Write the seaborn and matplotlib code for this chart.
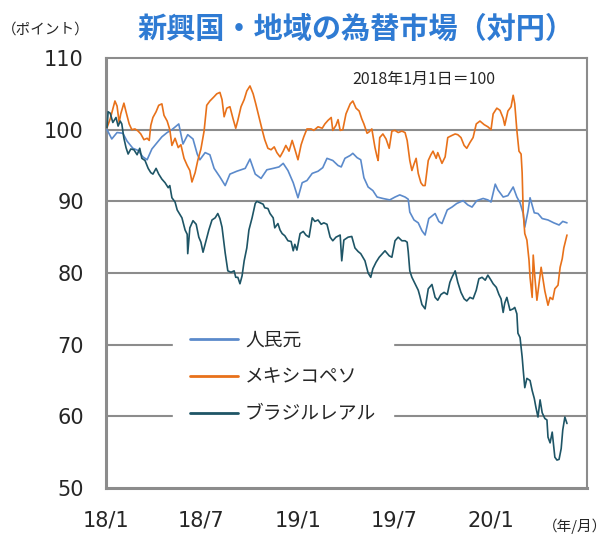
import pandas as pd
import matplotlib.pyplot as plt
import seaborn as sns

# 人民元
cny_dates = ['2018-01-03', '2018-01-12', '2018-01-22', '2018-02-02', '2018-02-10', '2018-02-21', '2018-03-03',
             '2018-03-12', '2018-03-20', '2018-03-29', '2018-04-08', '2018-04-17', '2018-04-27', '2018-05-06',
             '2018-05-19', '2018-05-27', '2018-06-05', '2018-06-15', '2018-06-23', '2018-06-28', '2018-07-08',
             '2018-07-17', '2018-07-25', '2018-08-05', '2018-08-15', '2018-08-24', '2018-09-06', '2018-09-22',
             '2018-10-01', '2018-10-11', '2018-10-22', '2018-11-02', '2018-11-14', '2018-11-25', '2018-12-03',
             '2018-12-12', '2018-12-22', '2018-12-31', '2019-01-08', '2019-01-17', '2019-01-27', '2019-02-07',
             '2019-02-16', '2019-02-24', '2019-03-07', '2019-03-17', '2019-03-23', '2019-03-30', '2019-04-09',
             '2019-04-14', '2019-04-22', '2019-04-29', '2019-05-05', '2019-05-13', '2019-05-22', '2019-05-30',
             '2019-06-10', '2019-06-23', '2019-07-03', '2019-07-12', '2019-07-22', '2019-07-28', '2019-07-31',
             '2019-08-08', '2019-08-16', '2019-08-23', '2019-08-29', '2019-09-05', '2019-09-17', '2019-09-24',
             '2019-09-30', '2019-10-10', '2019-10-19', '2019-10-28', '2019-11-09', '2019-11-18', '2019-11-26',
             '2019-12-05', '2019-12-17', '2019-12-26', '2020-01-01', '2020-01-09', '2020-01-14', '2020-01-24',
             '2020-02-02', '2020-02-12', '2020-02-19', '2020-02-25', '2020-03-02', '2020-03-05', '2020-03-11',
             '2020-03-15', '2020-03-23', '2020-03-30', '2020-04-07', '2020-04-18', '2020-04-29', '2020-05-09',
             '2020-05-16', '2020-05-24']
cny_values = [100.0, 98.7, 99.6, 99.5, 98.4, 97.4, 97.1, 96.2, 95.8, 97.3, 98.2, 99.0, 99.6, 100.0,
              100.8, 98.0, 99.3, 98.7, 96.6, 95.8, 96.8, 96.5, 94.6, 93.4, 92.2, 93.8, 94.2, 94.6,
              95.9, 93.8, 93.2, 94.4, 94.6, 94.8, 95.3, 94.3, 92.6, 90.5, 92.6, 92.9, 93.9, 94.2,
              94.7, 96.0, 95.7, 95.0, 94.8, 96.0, 96.4, 96.7, 96.1, 95.8, 93.3, 92.0, 91.5, 90.6,
              90.4, 90.2, 90.6, 90.9, 90.6, 90.3, 88.5, 87.4, 87.0, 85.9, 85.3, 87.6, 88.3, 87.2,
              86.9, 88.8, 89.2, 89.7, 90.1, 89.5, 89.2, 90.1, 90.4, 90.2, 89.9, 92.4, 91.6, 90.6,
              90.8, 92.0, 90.6, 89.8, 88.3, 86.4, 88.6, 90.5, 88.4, 88.3, 87.6, 87.4, 87.0, 86.7,
              87.2, 87.0]

# メキシコペソ
mxn_dates = ['2018-01-03', '2018-01-09', '2018-01-18', '2018-01-22', '2018-01-26', '2018-01-29', '2018-02-04',
             '2018-02-08', '2018-02-14', '2018-02-19', '2018-02-25', '2018-03-03', '2018-03-08', '2018-03-14',
             '2018-03-20', '2018-03-24', '2018-03-27', '2018-03-31', '2018-04-06', '2018-04-11', '2018-04-17',
             '2018-04-21', '2018-04-27', '2018-05-02', '2018-05-06', '2018-05-12', '2018-05-18', '2018-05-23',
             '2018-05-29', '2018-06-04', '2018-06-09', '2018-06-13', '2018-06-19', '2018-06-24', '2018-06-30',
             '2018-07-06', '2018-07-11', '2018-07-17', '2018-07-25', '2018-07-30', '2018-08-05', '2018-08-09',
             '2018-08-13', '2018-08-18', '2018-08-24', '2018-08-30', '2018-09-04', '2018-09-08', '2018-09-14',
             '2018-09-20', '2018-09-25', '2018-10-01', '2018-10-07', '2018-10-12', '2018-10-18', '2018-10-24',
             '2018-10-29', '2018-11-04', '2018-11-10', '2018-11-16', '2018-11-21', '2018-11-27', '2018-12-03',
             '2018-12-08', '2018-12-14', '2018-12-20', '2018-12-25', '2018-12-31', '2019-01-06', '2019-01-11',
             '2019-01-17', '2019-01-25', '2019-01-30', '2019-02-07', '2019-02-15', '2019-02-20', '2019-02-26',
             '2019-03-04', '2019-03-07', '2019-03-13', '2019-03-17', '2019-03-21', '2019-03-26', '2019-04-01',
             '2019-04-09', '2019-04-14', '2019-04-20', '2019-04-26', '2019-05-01', '2019-05-05', '2019-05-11',
             '2019-05-15', '2019-05-20', '2019-05-26', '2019-05-30', '2019-06-01', '2019-06-04', '2019-06-10',
             '2019-06-16', '2019-06-22', '2019-06-27', '2019-07-03', '2019-07-09', '2019-07-16', '2019-07-22',
             '2019-07-26', '2019-07-31', '2019-08-04', '2019-08-08', '2019-08-12', '2019-08-16', '2019-08-21',
             '2019-08-25', '2019-08-29', '2019-09-04', '2019-09-09', '2019-09-13', '2019-09-19', '2019-09-22',
             '2019-09-30', '2019-10-06', '2019-10-11', '2019-10-19', '2019-10-25', '2019-10-30', '2019-11-05',
             '2019-11-11', '2019-11-16', '2019-11-22', '2019-11-28', '2019-12-04', '2019-12-11', '2019-12-19',
             '2019-12-26', '2020-01-01', '2020-01-05', '2020-01-12', '2020-01-18', '2020-01-24', '2020-01-27',
             '2020-02-02', '2020-02-08', '2020-02-12', '2020-02-15', '2020-02-19', '2020-02-23', '2020-02-27',
             '2020-02-29', '2020-03-02', '2020-03-05', '2020-03-09', '2020-03-13', '2020-03-15', '2020-03-19',
             '2020-03-21', '2020-03-24', '2020-03-28', '2020-04-01', '2020-04-05', '2020-04-08', '2020-04-12',
             '2020-04-18', '2020-04-22', '2020-04-27', '2020-05-01', '2020-05-07', '2020-05-11', '2020-05-15',
             '2020-05-18', '2020-05-24']
mxn_values = [100.3, 101.5, 104.0, 103.3, 101.0, 102.2, 103.7, 102.5, 100.8, 100.0, 100.1, 99.8, 99.4, 98.6,
              98.8, 98.5, 100.6, 101.7, 102.5, 103.4, 103.6, 102.0, 101.2, 100.0, 97.8, 98.8, 97.5, 97.9,
              96.0, 95.0, 94.3, 92.7, 94.0, 95.7, 97.3, 99.8, 103.4, 104.0, 104.6, 105.0, 105.2, 104.2,
              101.8, 103.0, 103.2, 101.5, 100.2, 101.3, 103.2, 104.2, 105.4, 106.1, 105.0, 103.6, 101.8, 100.0,
              98.6, 97.4, 97.2, 97.6, 96.8, 96.2, 97.0, 97.8, 97.0, 98.5, 97.3, 95.8, 97.9, 99.0,
              100.1, 100.1, 99.9, 100.4, 100.2, 100.8, 101.3, 101.7, 99.9, 100.6, 101.4, 99.9, 100.0, 102.2,
              103.6, 104.0, 103.0, 102.6, 101.5, 100.8, 99.5, 99.7, 100.1, 97.5, 96.2, 95.7, 98.9, 99.4,
              98.7, 97.4, 99.8, 99.9, 99.6, 99.8, 99.6, 98.5, 95.7, 94.3, 95.2, 96.0, 93.9, 92.6,
              92.2, 92.2, 95.7, 96.5, 97.0, 96.0, 96.8, 95.3, 96.2, 98.9, 99.2, 99.4, 99.3, 98.9,
              97.8, 97.4, 98.2, 98.9, 100.8, 101.2, 100.7, 100.4, 100.0, 102.2, 103.0, 102.7, 101.6, 100.6,
              102.6, 103.2, 104.8, 103.6, 99.9, 97.0, 96.6, 94.0, 88.5, 85.5, 84.6, 81.8, 79.4, 76.6,
              82.5, 79.5, 76.2, 78.5, 80.8, 79.4, 77.5, 75.5, 76.6, 76.3, 77.8, 78.3, 80.8, 82.0,
              83.5, 85.3]

# ブラジルレアル
brl_dates = ['2018-01-03', '2018-01-05', '2018-01-09', '2018-01-14', '2018-01-20', '2018-01-24', '2018-01-28',
             '2018-01-31', '2018-02-04', '2018-02-08', '2018-02-12', '2018-02-17', '2018-02-23', '2018-03-01',
             '2018-03-06', '2018-03-10', '2018-03-16', '2018-03-22', '2018-03-27', '2018-03-31', '2018-04-06',
             '2018-04-11', '2018-04-17', '2018-04-23', '2018-04-29', '2018-05-02', '2018-05-06', '2018-05-12',
             '2018-05-16', '2018-05-21', '2018-05-25', '2018-05-31', '2018-06-04', '2018-06-05', '2018-06-09',
             '2018-06-15', '2018-06-21', '2018-06-26', '2018-06-30', '2018-07-04', '2018-07-10', '2018-07-15',
             '2018-07-21', '2018-07-27', '2018-08-01', '2018-08-05', '2018-08-09', '2018-08-15', '2018-08-20',
             '2018-08-26', '2018-09-01', '2018-09-04', '2018-09-08', '2018-09-12', '2018-09-16', '2018-09-20',
             '2018-09-25', '2018-09-29', '2018-10-05', '2018-10-11', '2018-10-14', '2018-10-20', '2018-10-26',
             '2018-10-29', '2018-11-04', '2018-11-08', '2018-11-14', '2018-11-17', '2018-11-23', '2018-11-27',
             '2018-12-01', '2018-12-06', '2018-12-12', '2018-12-18', '2018-12-22', '2018-12-25', '2018-12-29',
             '2019-01-04', '2019-01-10', '2019-01-15', '2019-01-21', '2019-01-27', '2019-02-01', '2019-02-07',
             '2019-02-13', '2019-02-18', '2019-02-24', '2019-03-02', '2019-03-07', '2019-03-13', '2019-03-21',
             '2019-03-24', '2019-03-28', '2019-04-05', '2019-04-12', '2019-04-18', '2019-04-24', '2019-04-29',
             '2019-05-07', '2019-05-13', '2019-05-18', '2019-05-22', '2019-05-28', '2019-06-03', '2019-06-08',
             '2019-06-14', '2019-06-22', '2019-06-27', '2019-07-03', '2019-07-09', '2019-07-16', '2019-07-22',
             '2019-07-26', '2019-07-28', '2019-07-31', '2019-08-04', '2019-08-10', '2019-08-16', '2019-08-19',
             '2019-08-23', '2019-08-29', '2019-09-04', '2019-09-11', '2019-09-17', '2019-09-22', '2019-09-28',
             '2019-10-04', '2019-10-10', '2019-10-15', '2019-10-19', '2019-10-25', '2019-10-30', '2019-11-05',
             '2019-11-11', '2019-11-16', '2019-11-22', '2019-11-28', '2019-12-04', '2019-12-09', '2019-12-15',
             '2019-12-21', '2019-12-26', '2020-01-01', '2020-01-05', '2020-01-11', '2020-01-16', '2020-01-20',
             '2020-01-24', '2020-01-27', '2020-01-31', '2020-02-06', '2020-02-12', '2020-02-15', '2020-02-19',
             '2020-02-21', '2020-02-25', '2020-02-29', '2020-03-02', '2020-03-05', '2020-03-09', '2020-03-15',
             '2020-03-19', '2020-03-23', '2020-03-26', '2020-03-30', '2020-04-03', '2020-04-07', '2020-04-12',
             '2020-04-16', '2020-04-18', '2020-04-22', '2020-04-26', '2020-05-01', '2020-05-05', '2020-05-09',
             '2020-05-13', '2020-05-16', '2020-05-20', '2020-05-24']
brl_values = [100.3, 102.5, 102.3, 101.0, 101.7, 100.5, 101.2, 100.8, 98.8, 97.5, 96.6, 97.3, 97.2, 96.5,
              97.4, 96.0, 95.7, 94.6, 94.0, 93.8, 94.6, 93.8, 93.1, 92.6, 91.9, 92.2, 90.5, 89.9,
              88.8, 88.2, 87.7, 86.0, 85.4, 82.7, 86.3, 87.3, 86.8, 85.0, 84.3, 82.9, 84.6, 86.0,
              87.4, 87.7, 88.3, 87.6, 86.4, 82.8, 80.3, 80.1, 80.3, 79.4, 79.4, 78.5, 79.6, 81.7,
              83.5, 86.0, 87.7, 89.7, 90.0, 89.8, 89.6, 89.1, 89.0, 88.3, 87.7, 86.3, 86.9, 86.0,
              85.5, 85.2, 84.5, 84.4, 83.1, 84.0, 83.2, 85.5, 85.8, 85.3, 85.0, 87.7, 87.2, 87.4,
              86.8, 87.0, 86.8, 85.0, 84.5, 85.0, 85.3, 81.7, 84.6, 85.0, 85.1, 83.5, 83.0, 82.7,
              81.7, 80.0, 79.4, 80.6, 81.5, 82.2, 82.6, 83.1, 82.4, 82.2, 84.5, 85.0, 84.5, 84.5,
              84.3, 83.0, 80.3, 79.4, 78.5, 77.6, 76.8, 75.6, 75.0, 77.8, 78.4, 76.6, 76.2, 77.0,
              77.3, 77.0, 78.7, 79.4, 80.3, 78.7, 77.3, 76.4, 76.1, 76.6, 76.4, 77.6, 79.2, 79.4,
              79.0, 79.7, 79.0, 78.5, 78.0, 77.0, 76.4, 74.5, 75.8, 76.6, 74.8, 75.0, 75.2, 74.3,
              71.6, 71.0, 68.3, 66.5, 64.0, 65.3, 65.0, 63.6, 62.5, 61.3, 59.9, 62.3, 60.5, 59.7,
              59.5, 57.1, 56.3, 57.8, 54.3, 53.9, 54.0, 55.5, 58.1, 59.9, 59.0]

names = ['人民元', 'メキシコペソ', 'ブラジルレアル']
colors = ['#5B8ACB', '#E8711A', '#1E5566']
tick_dates = ['2018-01-01', '2018-07-01', '2019-01-01', '2019-07-01', '2020-01-01', '2020-07-01']
tick_labels = ['18/1', '18/7', '19/1', '19/7', '20/1', '']
y_ticks = [50, 60, 70, 80, 90, 100, 110]

df = pd.concat([
    pd.DataFrame({'date': pd.to_datetime(cny_dates), 'value': cny_values, 'name': names[0]}),
    pd.DataFrame({'date': pd.to_datetime(mxn_dates), 'value': mxn_values, 'name': names[1]}),
    pd.DataFrame({'date': pd.to_datetime(brl_dates), 'value': brl_values, 'name': names[2]}),
])

sns.set_style('white')
plt.rcParams['font.family'] = ['Noto Sans CJK JP', 'DejaVu Sans']

fig = plt.figure(figsize=(6.08, 5.38), dpi=100)
ax = fig.add_axes([0.1743, 0.0929, 0.7912, 0.7993])

grid_col = '#8C8C8C'
for v in y_ticks[1:-1]:
    ax.axhline(v, color=grid_col, linewidth=1.5, zorder=1)

sns.lineplot(data=df, x='date', y='value', hue='name', hue_order=names,
             palette=colors, estimator=None, sort=False, linewidth=1.2, ax=ax, zorder=3)

ax.set_xlim(pd.Timestamp('2018-01-01'), pd.Timestamp('2020-07-01'))
ax.set_ylim(50, 110)
ax.set_yticks(y_ticks)
ax.set_xticks(pd.to_datetime(tick_dates))
ax.set_xticklabels(tick_labels)
ax.set_xlabel('')
ax.set_ylabel('')
ax.tick_params(axis='x', direction='in', length=6, width=1.2, color=grid_col, pad=16, labelsize=15)
ax.tick_params(axis='y', length=0, pad=16, labelsize=15)
for lab in ax.get_xticklabels() + ax.get_yticklabels():
    lab.set_family(['DejaVu Sans'])

for s in ['left', 'bottom']:
    ax.spines[s].set_color(grid_col)
    ax.spines[s].set_linewidth(2.2)
for s in ['top', 'right']:
    ax.spines[s].set_color(grid_col)
    ax.spines[s].set_linewidth(1.5)

handles, labels = ax.get_legend_handles_labels()
leg = ax.legend(handles, labels, loc='center', bbox_to_anchor=(0.368, 0.258),
                fontsize=13.5, frameon=True, framealpha=1, edgecolor='white', fancybox=False,
                handlelength=2.6, handletextpad=0.35, labelspacing=0.85, borderpad=0.9)
for line in leg.get_lines():
    line.set_linewidth(2)

fig.text(0.585, 0.947, '新興国・地域の為替市場（対円）', ha='center', va='center',
         fontsize=21, fontweight='bold', color='#2F7BD3')
fig.text(0.075, 0.945, '（ポイント）', ha='center', va='center', fontsize=10.5)
ax.text(0.66, 0.95, '2018年1月1日＝100', transform=ax.transAxes, ha='center', va='center', fontsize=11.5)
fig.text(0.945, 0.022, '（年/月）', ha='center', va='center', fontsize=10.5)

fig.savefig('out.png', dpi=100)
